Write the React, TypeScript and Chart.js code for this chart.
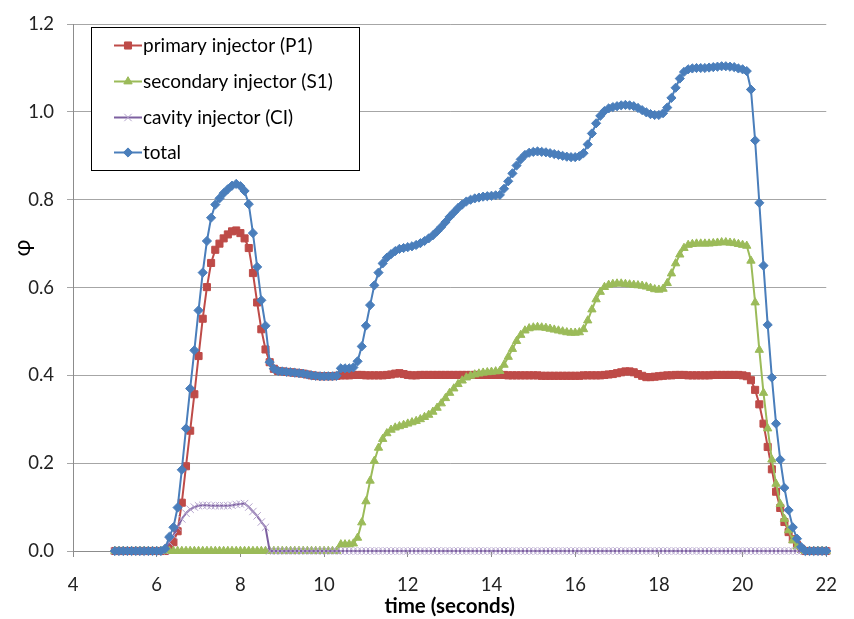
import React, { useEffect, useRef } from "react";
import { Chart, registerables } from "chart.js";

Chart.register(...registerables);

// time axis (seconds)
const TIME = [
  5.0, 5.1, 5.2, 5.3, 5.4, 5.5, 5.6, 5.7, 5.8, 5.9,
  6.0, 6.1, 6.2, 6.3, 6.4, 6.5, 6.6, 6.7, 6.8, 6.9,
  7.0, 7.1, 7.2, 7.3, 7.4, 7.5, 7.6, 7.7, 7.8, 7.9,
  8.0, 8.1, 8.2, 8.3, 8.4, 8.5, 8.6, 8.7, 8.8, 8.9,
  9.0, 9.1, 9.2, 9.3, 9.4, 9.5, 9.6, 9.7, 9.8, 9.9,
  10.0, 10.1, 10.2, 10.3, 10.4, 10.5, 10.6, 10.7, 10.8, 10.9,
  11.0, 11.1, 11.2, 11.3, 11.4, 11.5, 11.6, 11.7, 11.8, 11.9,
  12.0, 12.1, 12.2, 12.3, 12.4, 12.5, 12.6, 12.7, 12.8, 12.9,
  13.0, 13.1, 13.2, 13.3, 13.4, 13.5, 13.6, 13.7, 13.8, 13.9,
  14.0, 14.1, 14.2, 14.3, 14.4, 14.5, 14.6, 14.7, 14.8, 14.9,
  15.0, 15.1, 15.2, 15.3, 15.4, 15.5, 15.6, 15.7, 15.8, 15.9,
  16.0, 16.1, 16.2, 16.3, 16.4, 16.5, 16.6, 16.7, 16.8, 16.9,
  17.0, 17.1, 17.2, 17.3, 17.4, 17.5, 17.6, 17.7, 17.8, 17.9,
  18.0, 18.1, 18.2, 18.3, 18.4, 18.5, 18.6, 18.7, 18.8, 18.9,
  19.0, 19.1, 19.2, 19.3, 19.4, 19.5, 19.6, 19.7, 19.8, 19.9,
  20.0, 20.1, 20.2, 20.3, 20.4, 20.5, 20.6, 20.7, 20.8, 20.9,
  21.0, 21.1, 21.2, 21.3, 21.4, 21.5, 21.6, 21.7, 21.8, 21.9,
  22.0,
];

// primary injector (P1)
const PRIMARY = [
  0, 0, 0, 0, 0, 0, 0, 0, 0, 0,
  0, 0, 0, 0.008, 0.02, 0.045, 0.11, 0.193, 0.274, 0.357,
  0.444, 0.529, 0.601, 0.656, 0.686, 0.7, 0.712, 0.721, 0.728, 0.73,
  0.724, 0.712, 0.69, 0.633, 0.566, 0.505, 0.459, 0.43, 0.415, 0.41,
  0.409, 0.408, 0.407, 0.406, 0.405, 0.404, 0.402, 0.4, 0.399, 0.398,
  0.398, 0.398, 0.398, 0.399, 0.4, 0.4, 0.4, 0.401, 0.401, 0.401,
  0.4, 0.4, 0.4, 0.4, 0.4, 0.401, 0.402, 0.404, 0.405, 0.403,
  0.401, 0.4, 0.4, 0.401, 0.401, 0.401, 0.401, 0.401, 0.401, 0.401,
  0.401, 0.401, 0.401, 0.401, 0.401, 0.401, 0.401, 0.401, 0.401, 0.401,
  0.401, 0.401, 0.401, 0.401, 0.4, 0.4, 0.4, 0.4, 0.4, 0.4,
  0.4, 0.4, 0.399, 0.399, 0.399, 0.399, 0.399, 0.399, 0.399, 0.399,
  0.399, 0.399, 0.4, 0.4, 0.4, 0.4, 0.4, 0.401, 0.402, 0.403,
  0.405, 0.407, 0.409, 0.409, 0.407, 0.403, 0.399, 0.396, 0.396, 0.397,
  0.398, 0.399, 0.4, 0.4, 0.401, 0.401, 0.401, 0.4, 0.4, 0.4,
  0.4, 0.4, 0.4, 0.401, 0.401, 0.401, 0.401, 0.401, 0.401, 0.401,
  0.4, 0.398, 0.389, 0.367, 0.334, 0.29, 0.237, 0.186, 0.135, 0.098,
  0.066, 0.043, 0.027, 0.014, 0.005, 0, 0, 0, 0, 0,
  0,
];

// secondary injector (S1)
const SECONDARY = [
  0, 0, 0, 0, 0, 0, 0, 0, 0, 0,
  0, 0, 0, 0, 0, 0, 0, 0, 0, 0,
  0, 0, 0, 0, 0, 0, 0, 0, 0, 0,
  0, 0, 0, 0, 0, 0, 0, 0, 0, 0,
  0, 0, 0, 0, 0, 0, 0, 0, 0, 0,
  0, 0, 0, 0, 0.015, 0.015, 0.015, 0.017, 0.03, 0.065,
  0.113, 0.16, 0.205, 0.235, 0.255, 0.268, 0.276, 0.281, 0.284, 0.287,
  0.29, 0.293, 0.296, 0.3, 0.305, 0.31, 0.317, 0.326, 0.336, 0.348,
  0.36, 0.37, 0.38, 0.388, 0.395, 0.399, 0.402, 0.404, 0.406, 0.407,
  0.408, 0.409, 0.41, 0.424, 0.442, 0.46, 0.478, 0.492, 0.502, 0.507,
  0.509, 0.51, 0.509, 0.508, 0.506, 0.504, 0.502, 0.5, 0.498, 0.497,
  0.497, 0.498, 0.505, 0.525, 0.55, 0.573, 0.59, 0.601, 0.606, 0.608,
  0.609, 0.609, 0.608, 0.607, 0.606, 0.605, 0.604, 0.602, 0.599, 0.596,
  0.595, 0.597, 0.61, 0.632, 0.655, 0.675, 0.69, 0.697, 0.699, 0.7,
  0.7, 0.7, 0.7, 0.701, 0.702, 0.703, 0.703, 0.702, 0.701, 0.699,
  0.697, 0.695, 0.661, 0.566, 0.458, 0.36, 0.279, 0.208, 0.153, 0.107,
  0.073, 0.047, 0.024, 0.01, 0.003, 0, 0, 0, 0, 0,
  0,
];

// cavity injector (CI)
const CAVITY = [
  0, 0, 0, 0, 0, 0, 0, 0, 0, 0,
  0, 0, 0, 0.02, 0.035, 0.054, 0.073, 0.086, 0.095, 0.1,
  0.103, 0.104, 0.104, 0.103, 0.103, 0.103, 0.103, 0.103, 0.104, 0.106,
  0.107, 0.108, 0.1, 0.09, 0.08, 0.066, 0.054, 0, 0, 0,
  0, 0, 0, 0, 0, 0, 0, 0, 0, 0,
  0, 0, 0, 0, 0, 0, 0, 0, 0, 0,
  0, 0, 0, 0, 0, 0, 0, 0, 0, 0,
  0, 0, 0, 0, 0, 0, 0, 0, 0, 0,
  0, 0, 0, 0, 0, 0, 0, 0, 0, 0,
  0, 0, 0, 0, 0, 0, 0, 0, 0, 0,
  0, 0, 0, 0, 0, 0, 0, 0, 0, 0,
  0, 0, 0, 0, 0, 0, 0, 0, 0, 0,
  0, 0, 0, 0, 0, 0, 0, 0, 0, 0,
  0, 0, 0, 0, 0, 0, 0, 0, 0, 0,
  0, 0, 0, 0, 0, 0, 0, 0, 0, 0,
  0, 0, 0, 0, 0, 0, 0, 0, 0, 0,
  0, 0, 0, 0, 0, 0, 0, 0, 0, 0,
  0,
];

// total
const TOTAL = [
  0, 0, 0, 0, 0, 0, 0, 0, 0, 0,
  0, 0, 0.005, 0.032, 0.054, 0.099, 0.185, 0.279, 0.37, 0.457,
  0.548, 0.634, 0.706, 0.759, 0.789, 0.803, 0.815, 0.824, 0.832, 0.836,
  0.831, 0.82, 0.79, 0.724, 0.647, 0.571, 0.513, 0.43, 0.415, 0.41,
  0.409, 0.408, 0.407, 0.406, 0.405, 0.404, 0.402, 0.4, 0.399, 0.398,
  0.398, 0.398, 0.398, 0.399, 0.416, 0.416, 0.416, 0.418, 0.432, 0.466,
  0.513, 0.56, 0.605, 0.634, 0.655, 0.668, 0.676, 0.683, 0.688, 0.69,
  0.692, 0.694, 0.697, 0.701, 0.706, 0.712, 0.719, 0.728, 0.738, 0.749,
  0.761, 0.771, 0.781, 0.789, 0.796, 0.8, 0.803, 0.805, 0.807, 0.808,
  0.809, 0.81, 0.811, 0.825, 0.842, 0.86, 0.878, 0.892, 0.902, 0.907,
  0.909, 0.91, 0.909, 0.908, 0.906, 0.904, 0.902, 0.9, 0.898, 0.897,
  0.897, 0.899, 0.906, 0.926, 0.951, 0.974, 0.991, 1.002, 1.008, 1.011,
  1.013, 1.015, 1.016, 1.015, 1.013, 1.009, 1.004, 0.999, 0.995, 0.993,
  0.993, 0.997, 1.01, 1.032, 1.055, 1.076, 1.091, 1.097, 1.099, 1.1,
  1.1, 1.1, 1.101, 1.102, 1.103, 1.104, 1.104, 1.103, 1.102, 1.099,
  1.097, 1.093, 1.051, 0.935, 0.793, 0.65, 0.515, 0.395, 0.29, 0.208,
  0.144, 0.093, 0.054, 0.028, 0.009, 0, 0, 0, 0, 0,
  0,
];

const SERIES_NAMES = [
  "primary injector (P1)",
  "secondary injector (S1)",
  "cavity injector (CI)",
  "total",
];
const X_TITLE = "time (seconds)";
const Y_TITLE = "\u03c6";

const FONT = "Lato, 'DejaVu Sans', sans-serif";

const STYLES = [
  { line: "#BE4B48", fill: "#BE4B48", stroke: "#BE4B48", shape: "rect", r: 5 },
  { line: "#9BBB59", fill: "#9BBB59", stroke: "#9BBB59", shape: "triangle", r: 4.8 },
  { line: "#7D60A0", fill: "#B4A3CC", stroke: "#B4A3CC", shape: "crossRot", r: 5.2 },
  { line: "#4A7EBB", fill: "#4A7EBB", stroke: "#4A7EBB", shape: "rectRot", r: 4.6 },
];

function drawMarker(ctx: CanvasRenderingContext2D, shape: string, x: number, y: number, r: number, fill: string, stroke: string) {
  ctx.save();
  ctx.fillStyle = fill;
  ctx.strokeStyle = stroke;
  ctx.lineWidth = 1;
  ctx.beginPath();
  if (shape === "rect") {
    const s = r * Math.SQRT1_2;
    ctx.rect(x - s, y - s, 2 * s, 2 * s);
    ctx.fill();
    ctx.stroke();
  } else if (shape === "triangle") {
    ctx.moveTo(x, y - r);
    ctx.lineTo(x + r * 0.866, y + r * 0.5);
    ctx.lineTo(x - r * 0.866, y + r * 0.5);
    ctx.closePath();
    ctx.fill();
    ctx.stroke();
  } else if (shape === "rectRot") {
    ctx.moveTo(x, y - r);
    ctx.lineTo(x + r, y);
    ctx.lineTo(x, y + r);
    ctx.lineTo(x - r, y);
    ctx.closePath();
    ctx.fill();
    ctx.stroke();
  } else {
    const s = r * Math.SQRT1_2;
    ctx.moveTo(x - s, y - s);
    ctx.lineTo(x + s, y + s);
    ctx.moveTo(x + s, y - s);
    ctx.lineTo(x - s, y + s);
    ctx.stroke();
  }
  ctx.restore();
}

const overlayPlugin = {
  id: "boxLegend",
  afterDraw(chart: any) {
    const ctx: CanvasRenderingContext2D = chart.ctx;
    ctx.save();
    // legend box
    ctx.fillStyle = "#ffffff";
    ctx.fillRect(92, 28, 267, 142);
    ctx.strokeStyle = "#000000";
    ctx.lineWidth = 1;
    ctx.strokeRect(91.5, 27.5, 268, 143);
    ctx.font = `19px ${FONT}`;
    ctx.textBaseline = "middle";
    ctx.textAlign = "left";
    SERIES_NAMES.forEach((name, i) => {
      const y = Math.round(45 + i * 35.8) + 0.5;
      const st = STYLES[i];
      ctx.strokeStyle = st.line;
      ctx.lineWidth = 2;
      ctx.beginPath();
      ctx.moveTo(114, y);
      ctx.lineTo(142, y);
      ctx.stroke();
      drawMarker(ctx, st.shape, 128, y, st.r, st.fill, st.stroke);
      ctx.fillStyle = "#000000";
      ctx.fillText(name, 143, y);
    });
    // y-axis title
    ctx.translate(23, 248);
    ctx.rotate(-Math.PI / 2);
    ctx.font = `23px ${FONT}`;
    ctx.textAlign = "center";
    ctx.fillStyle = "#000000";
    ctx.fillText(Y_TITLE, 0, 0);
    ctx.restore();
  },
};

export default function App() {
  const ref = useRef<HTMLCanvasElement | null>(null);

  useEffect(() => {
    if (!ref.current) return;
    const seriesValues = [PRIMARY, SECONDARY, CAVITY, TOTAL];
    const datasets = seriesValues.map((vals, i) => ({
      label: SERIES_NAMES[i],
      data: TIME.map((t, k) => ({ x: t, y: vals[k] })),
      borderColor: STYLES[i].line,
      backgroundColor: STYLES[i].fill,
      pointBackgroundColor: STYLES[i].fill,
      pointBorderColor: STYLES[i].stroke,
      pointStyle: STYLES[i].shape,
      pointRadius: STYLES[i].r,
      pointBorderWidth: 1,
      borderWidth: 2,
      tension: 0,
      fill: false,
      clip: false,
      order: 4 - i,
    }));

    const chart = new Chart(ref.current, {
      type: "line",
      data: { datasets },
      options: {
        animation: false,
        responsive: false,
        maintainAspectRatio: false,
        layout: { padding: { left: 0, top: 17, right: 12, bottom: 0 } },
        plugins: {
          legend: { display: false },
          tooltip: { enabled: false },
        },
        scales: {
          x: {
            type: "linear",
            min: 4,
            max: 22,
            afterFit: (scale: any) => {
              scale.height = 68;
            },
            ticks: {
              stepSize: 2,
              padding: 17,
              color: "#222",
              font: { family: FONT, size: 18.5 },
              maxRotation: 0,
            },
            grid: {
              drawOnChartArea: false,
              drawTicks: true,
              tickLength: 6,
              color: "#8C8C8C",
            },
            border: { display: true, color: "#8C8C8C", width: 1 },
            title: {
              display: true,
              text: X_TITLE,
              color: "#000",
              font: { family: FONT, size: 20.5, weight: "bold" },
              padding: { top: 0, bottom: 0 },
            },
          },
          y: {
            type: "linear",
            min: 0,
            max: 1.2,
            afterFit: (scale: any) => {
              scale.width = 73;
            },
            ticks: {
              stepSize: 0.2,
              padding: 13,
              color: "#222",
              font: { family: FONT, size: 18.5 },
              callback: (v: any) => Number(v).toFixed(1),
            },
            grid: {
              drawOnChartArea: true,
              drawTicks: true,
              tickLength: 6,
              color: "#A6A6A6",
            },
            border: { display: true, color: "#8C8C8C", width: 1 },
          },
        },
      },
      plugins: [overlayPlugin],
    });
    return () => chart.destroy();
  }, []);

  return (
    <div style={{ position: "absolute", left: 0, top: 0, width: 854, height: 619, background: "#fff" }}>
      <canvas ref={ref} width={854} height={619} style={{ display: "block", width: 854, height: 619 }} />
    </div>
  );
}
